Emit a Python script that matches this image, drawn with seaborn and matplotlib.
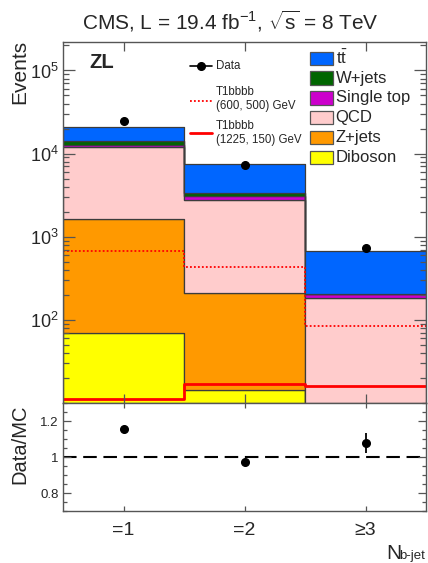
import numpy as np
import pandas as pd
import matplotlib
matplotlib.use("Agg")
import matplotlib.pyplot as plt
import seaborn as sns
from matplotlib.patches import Rectangle
from matplotlib.lines import Line2D
from matplotlib.ticker import LogLocator, MultipleLocator, FixedLocator, NullFormatter

# ---- yields per N_b-jet bin ----
bin_pos = [1, 2, 3]
bin_labels = ["=1", "=2", "\u22653"]

ttbar = [6750, 4195, 471]
wjets = [1750, 205, 4]
single_top = [600, 330, 21]
qcd = [10350, 2577, 175]
zjets = [1580, 199, 4]
diboson = [70, 14.3, 2]

data = [24400, 7310, 730]

sig_600_500 = [665, 438, 85]
sig_1225_150 = [11.1, 17.1, 16.2]

ratio_err = [0.01, 0.015, 0.055]

process_names = [r"$\mathrm{t\bar{t}}$", "W+jets", "Single top", "QCD", "Z+jets", "Diboson"]
process_yields = [ttbar, wjets, single_top, qcd, zjets, diboson]
process_colors = ["#0066ff", "#006600", "#cc00cc", "#ffcccc", "#ff9900", "#ffff00"]

sns.set_style("ticks")
plt.rcParams["font.family"] = ["Liberation Sans", "DejaVu Sans"]
plt.rcParams["mathtext.fontset"] = "custom"
plt.rcParams["mathtext.rm"] = "Liberation Sans"
plt.rcParams["mathtext.it"] = "Liberation Sans:italic"
plt.rcParams["mathtext.bf"] = "Liberation Sans:bold"

W, H = 428, 563
fig = plt.figure(figsize=(W / 100, H / 100), dpi=100)

def fx(px):
    return px / W

def fy(py):
    return 1 - py / H

ax = fig.add_axes([fx(63), fy(403), fx(426) - fx(63), fy(42) - fy(403)])
ax2 = fig.add_axes([fx(63), fy(511), fx(426) - fx(63), fy(403) - fy(511)])
ax.set_axisbelow(False)
ax2.set_axisbelow(False)

frame_col = "#555555"
edge_col = "#3c3c3c"

# ---- stacked backgrounds (first hue level ends up on top of the stack) ----
rows = []
for name, vals in zip(process_names, process_yields):
    for b, v in zip(bin_pos, vals):
        rows.append({"nbjet": b, "events": v, "process": name})
bkg = pd.DataFrame(rows)

palette = dict(zip(process_names, process_colors))
sns.histplot(data=bkg, x="nbjet", weights="events", hue="process",
             hue_order=process_names, multiple="stack", discrete=True,
             element="step", palette=palette, alpha=1, edgecolor=edge_col,
             linewidth=0.9, legend=False, ax=ax)

# ---- signal overlays ----
sns.histplot(x=bin_pos, weights=sig_600_500, discrete=True, element="step",
             fill=False, color="#ff0000", linewidth=1.3, linestyle=(0, (1, 1.2)), ax=ax)
sns.histplot(x=bin_pos, weights=sig_1225_150, discrete=True, element="step",
             fill=False, color="#ff0000", linewidth=2.0, ax=ax)

# ---- data ----
ax.errorbar(bin_pos, data, yerr=np.sqrt(data), fmt="o", color="black",
            ms=5.5, elinewidth=1.2, capsize=0, zorder=10)

ax.set_yscale("log")
ax.set_xlim(0.5, 3.5)
ax.set_ylim(10, 2.2e5)
ax.set_xlabel("")
ax.set_ylabel("")
ax.yaxis.set_major_locator(FixedLocator([1e2, 1e3, 1e4, 1e5]))
ax.yaxis.set_minor_locator(LogLocator(base=10, subs=np.arange(2, 10)))
ax.yaxis.set_minor_formatter(NullFormatter())
ax.set_yticklabels([r"$10^{2}$", r"$10^{3}$", r"$10^{4}$", r"$10^{5}$"])
ax.set_xticks(bin_pos)
ax.set_xticklabels([])
ax.tick_params(axis="y", which="major", direction="in", length=8.6, width=0.9,
               left=True, right=True, labelsize=13, color=frame_col, pad=3)
ax.tick_params(axis="y", which="minor", direction="in", length=4.3, width=0.9,
               left=True, right=True, color=frame_col)
ax.tick_params(axis="x", which="major", direction="in", length=6.5, width=0.9,
               top=True, bottom=True, color=frame_col)
ax.tick_params(axis="x", which="minor", bottom=False, top=False)
for s in ax.spines.values():
    s.set_color(frame_col)
    s.set_linewidth(1.0)
    s.set_zorder(30)

# ---- ratio panel ----
mc_total = np.sum(np.array(process_yields), axis=0)
ratio = np.array(data) / mc_total
ax2.axhline(1.0, color="black", linewidth=1.5, dashes=(6.5, 3.2), zorder=1)
ax2.errorbar(bin_pos, ratio, yerr=ratio_err, fmt="o", color="black",
             ms=5.5, elinewidth=1.3, capsize=0, zorder=5)
ax2.set_xlim(0.5, 3.5)
ax2.set_ylim(0.7, 1.3)
ax2.set_xticks(bin_pos)
ax2.set_xticklabels(bin_labels, fontsize=14)
ax2.yaxis.set_major_locator(FixedLocator([0.8, 1.0, 1.2]))
ax2.yaxis.set_minor_locator(MultipleLocator(0.05))
ax2.set_yticklabels(["0.8", "1", "1.2"])
ax2.tick_params(axis="y", which="major", direction="in", length=5.6, width=0.9,
                left=True, right=True, labelsize=9.5, color=frame_col, pad=3)
ax2.tick_params(axis="y", which="minor", direction="in", length=2.8, width=0.9,
                left=True, right=True, color=frame_col)
ax2.tick_params(axis="x", which="major", direction="in", length=3.5, width=0.9,
                top=True, bottom=True, color=frame_col, pad=8)
for s in ax2.spines.values():
    s.set_color(frame_col)
    s.set_linewidth(1.0)

# ---- legends ----
def axf(px, py):
    return ((px - 63) / 363, (403 - py) / 361)

box_y0 = 58.3
box_dy = 19.8
for i, (name, col) in enumerate(zip(process_names, process_colors)):
    cy = box_y0 + i * box_dy
    x0, y0 = axf(310, cy + 6.7)
    x1, y1 = axf(333, cy - 6.7)
    ax.add_patch(Rectangle((x0, y0), x1 - x0, y1 - y0, transform=ax.transAxes,
                           facecolor=col, edgecolor=frame_col, linewidth=0.9,
                           zorder=20, clip_on=False))
    tx, ty = axf(335.5, cy)
    ax.text(tx, ty, name, transform=ax.transAxes, fontsize=12,
            va="center", ha="left", zorder=21)

lx0, _ = axf(190, 0)
lx1, _ = axf(212, 0)
lxm, _ = axf(201, 0)
ltx, _ = axf(216, 0)
_, yd = axf(0, 65.7)
ax.add_line(Line2D([lx0, lx1], [yd, yd], color="black", lw=1.2,
                   transform=ax.transAxes, zorder=20))
ax.add_line(Line2D([lxm], [yd], marker="o", ms=5.5, color="black",
                   transform=ax.transAxes, zorder=21))
ax.text(ltx, yd, "Data", transform=ax.transAxes, fontsize=8.3,
        va="center", ha="left")

_, ys1 = axf(0, 101)
ax.add_line(Line2D([lx0, lx1], [ys1, ys1], color="#ff0000", lw=1.3,
                   linestyle=(0, (1, 1.2)), transform=ax.transAxes, zorder=20))
_, yt1 = axf(0, 99)
ax.text(ltx, yt1, "T1bbbb\n(600, 500) GeV", transform=ax.transAxes,
        fontsize=8.3, va="center", ha="left", linespacing=1.25)

_, ys2 = axf(0, 133)
ax.add_line(Line2D([lx0, lx1], [ys2, ys2], color="#ff0000", lw=2.0,
                   transform=ax.transAxes, zorder=20))
_, yt2 = axf(0, 133)
ax.text(ltx, yt2, "T1bbbb\n(1225, 150) GeV", transform=ax.transAxes,
        fontsize=8.3, va="center", ha="left", linespacing=1.25)

# ---- labels and titles ----
fig.text(fx(230), fy(30), r"CMS, L = 19.4 fb$^{-1}$, $\sqrt{\mathrm{s}}$ = 8 TeV",
         fontsize=15, ha="center", va="baseline")
fig.text(fx(89), fy(68), "ZL", fontsize=14.5, fontweight="bold",
         ha="left", va="baseline")
fig.text(fx(19.5), fy(40), "Events", fontsize=15, rotation=90,
         ha="center", va="top")
fig.text(fx(19.5), fy(404), "Data/MC", fontsize=14.5, rotation=90,
         ha="center", va="top")
fig.text(fx(386.5), fy(559), "N", fontsize=15, ha="left", va="baseline")
fig.text(fx(399.5), fy(559), "b-jet", fontsize=9.5, ha="left", va="baseline")

fig.savefig("out.png", dpi=100)
